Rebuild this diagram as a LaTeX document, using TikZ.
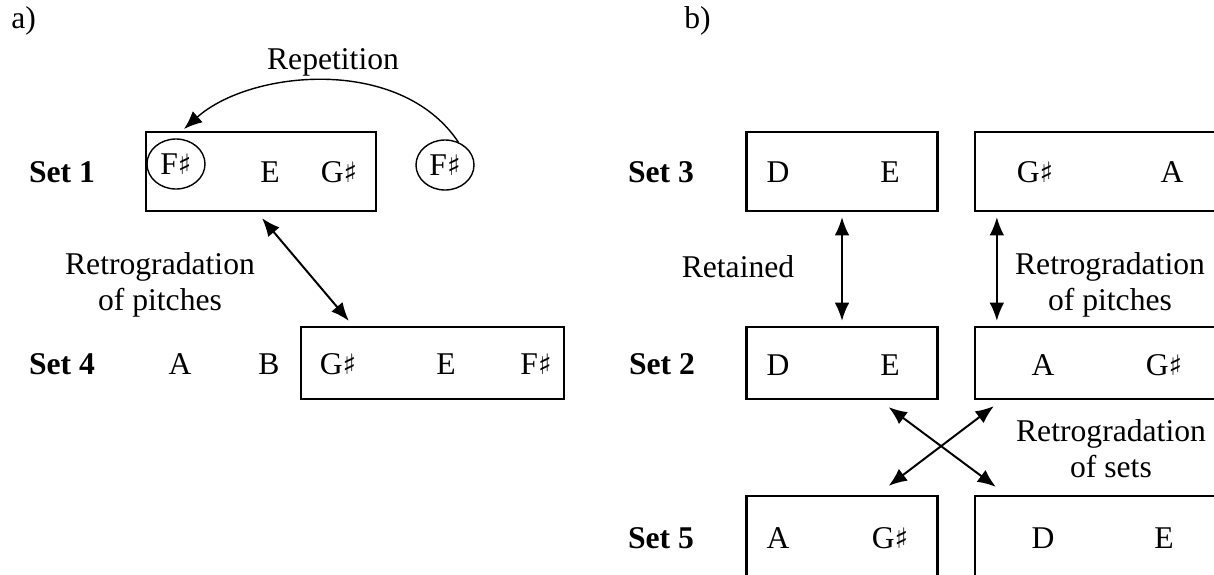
\documentclass[tikz,border=0pt]{standalone}
\usepackage{fontspec}
\setmainfont{Liberation Serif}
\newfontfamily\symfont{DejaVu Sans}
\usetikzlibrary{arrows.meta,shapes.geometric,calc}

\tikzset{
	setbox/.style={draw, line width=1.6pt, inner sep=0pt},
	pitch/.style={anchor=base, inner sep=0pt},
	setlabel/.style={anchor=base, inner sep=0pt, font=\bfseries},
	ring/.style={draw, ellipse, line width=1pt, minimum width=1.45cm, minimum height=1.25cm, inner sep=0pt, text depth=0pt},
	twoway/.style={{Latex[length=13pt,width=10.5pt]}-{Latex[length=13pt,width=10.5pt]}, line width=1.4pt},
	oneway/.style={-{Latex[length=13pt,width=10.5pt]}, line width=1pt},
	note/.style={align=center, inner sep=0pt}
}
\newcommand{\shp}{{\symfont\fontsize{20}{22}\selectfont ♯}}

\begin{document}
\fontsize{22.5}{25.6}\selectfont
\begin{tikzpicture}[x=0.025cm, y=-0.025cm]
	\useasboundingbox (0,0) rectangle (1214,574);

	% a)
	\node [anchor=base west, inner sep=0pt] (pa) at (11,28) {a)};
	\node [pitch] (rep) at (333,69) {Repetition};
	\node [setlabel] (s1) at (62,182) {Set 1};
	\node [setbox, minimum width=5.75cm, minimum height=1.975cm] (b1) at (261,171.5) {};
	\node [ring] (c1) at (176,164) {F\shp};
	\node [pitch] (e1) at (270,182) {E};
	\node [pitch] (g1) at (339,182) {G\shp};
	\node [ring] (c2) at (445,165) {F\shp};
	\coordinate (c1top) at (184,129);
	\draw [oneway] (c2.60) .. controls (400,55) and (250,70) .. (c1top);

	\node [note] (r1) at (160,285) {Retrogradation\\of pitches};

	\node [setlabel] (s4) at (62,374) {Set 4};
	\node [pitch] (a4) at (180,374) {A};
	\node [pitch] (h4) at (269,374) {B};
	\node [setbox, minimum width=6.575cm, minimum height=1.8cm] (b4) at (432.5,363) {};
	\node [pitch] (g4) at (338,374) {G\shp};
	\node [pitch] (e4) at (446,374) {E};
	\node [pitch] (f4) at (536,374) {F\shp};
	\draw [twoway] ($(b1.south)+(1,6)$) -- ($(b4.north west)+(49,-5)$);

	% b)
	\node [anchor=base west, inner sep=0pt] (pb) at (684,28) {b)};
	\node [setlabel] (s3) at (661,182) {Set 3};
	\node [setlabel] (s2) at (662,374) {Set 2};
	\node [setlabel] (s5) at (661,548) {Set 5};

	\node [setbox, minimum width=4.775cm, minimum height=1.975cm] (b3l) at (842,171.5) {};
	\node [setbox, minimum width=6.375cm, minimum height=1.975cm] (b3r) at (1102.5,171.5) {};
	\node [setbox, minimum width=4.775cm, minimum height=1.8cm] (b2l) at (842,363) {};
	\node [setbox, minimum width=6.375cm, minimum height=1.8cm] (b2r) at (1102.5,363) {};
	\node [setbox, minimum width=4.775cm, minimum height=2.6cm] (b5l) at (842,548) {};
	\node [setbox, minimum width=6.375cm, minimum height=2.6cm] (b5r) at (1102.5,548) {};

	\node [pitch] (d3) at (778,182) {D};
	\node [pitch] (e3) at (890,182) {E};
	\node [pitch] (g3) at (1035,182) {G\shp};
	\node [pitch] (a3) at (1172,182) {A};
	\node [pitch] (d2) at (778,375) {D};
	\node [pitch] (e2) at (890,375) {E};
	\node [pitch] (a2) at (1043,375) {A};
	\node [pitch] (g2) at (1164,375) {G\shp};
	\node [pitch] (a5) at (778,548) {A};
	\node [pitch] (g5) at (890,548) {G\shp};
	\node [pitch] (d5) at (1043,548) {D};
	\node [pitch] (e5) at (1164,548) {E};

	\node [note] (kept) at (738,267) {Retained};
	\node [note] (r2) at (1110,285) {Retrogradation\\of pitches};
	\node [note] (r3) at (1111,449) {Retrogradation\\of sets};

	\draw [twoway] ($(b3l.south)+(0,5)$) -- ($(b2l.north)+(0,-5)$);
	\draw [twoway] ($(b3r.south west)+(23,5)$) -- ($(b2r.north west)+(23,-5)$);
	\draw [twoway] ($(b2l.south east)+(-50,7)$) -- ($(b5r.north west)+(22,-8)$);
	\draw [twoway] ($(b2r.south west)+(20,6)$) -- ($(b5l.north east)+(-50,-9)$);
\end{tikzpicture}
\end{document}
